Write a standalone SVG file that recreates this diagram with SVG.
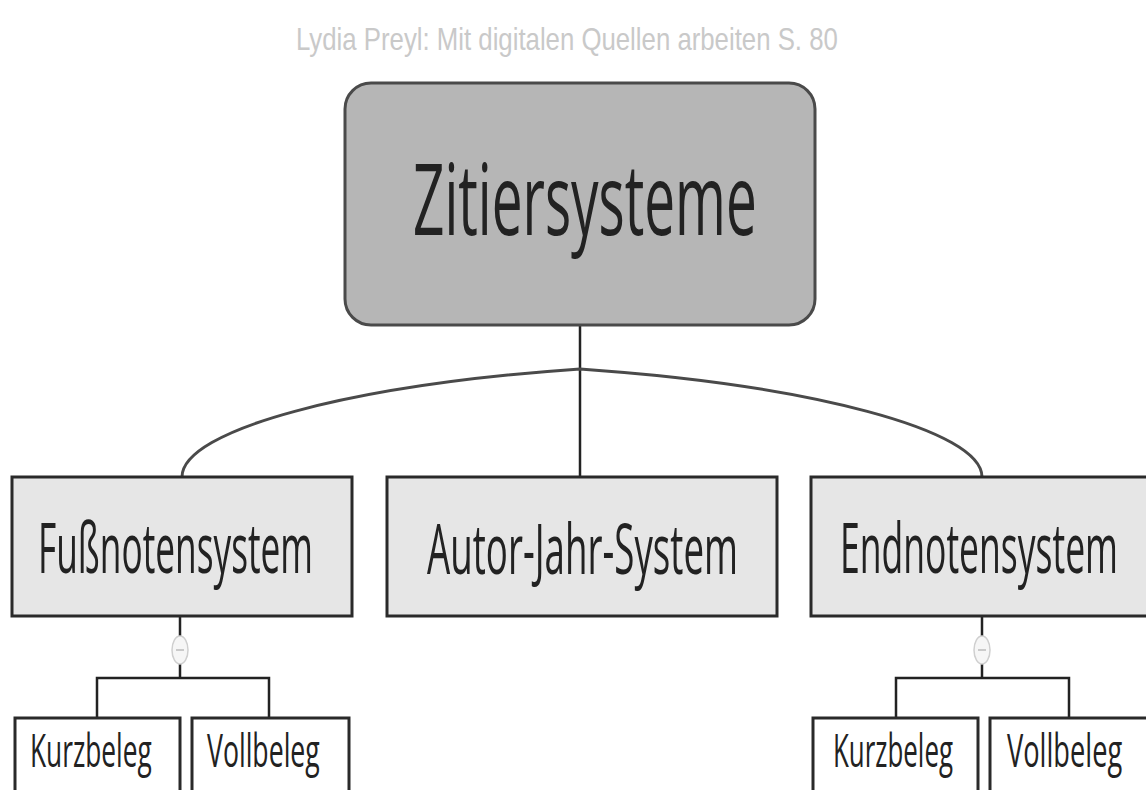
<svg xmlns="http://www.w3.org/2000/svg" width="1146" height="790" viewBox="0 0 1146 790">
<style>
.t{font-family:"Open Sans","Liberation Sans",sans-serif;fill:#222;}
.box{fill:#e6e6e6;stroke:#2a2a2a;stroke-width:3;}
.leaf{fill:#ffffff;stroke:#2a2a2a;stroke-width:3;}
.ln{fill:none;stroke:#222;stroke-width:2.5;}
.arc{fill:none;stroke:#4a4a4a;stroke-width:3;}
.tog{fill:#f6f6f6;stroke:#cfcfcf;stroke-width:1.5;}
</style>
<rect width="1146" height="790" fill="#ffffff"/>
<g transform="translate(296,50) scale(0.7,1)">
<text x="0" y="0" font-family="'Liberation Sans',sans-serif" font-size="32" fill="#c9c9c9" textLength="774" lengthAdjust="spacingAndGlyphs">Lydia Preyl: Mit digitalen Quellen arbeiten S. 80</text>
</g>
<g id="connectors">
<line class="ln" x1="580" y1="325" x2="580" y2="477"/>
<path class="arc" d="M182,477 C182,430 350,385 580,369 C810,385 982,430 982,477"/>
<line class="ln" x1="180" y1="616" x2="180" y2="636"/>
<line class="ln" x1="180" y1="664" x2="180" y2="678"/>
<path class="ln" d="M97,718 V678 H269 V718"/>
<line class="ln" x1="982" y1="616" x2="982" y2="636"/>
<line class="ln" x1="982" y1="664" x2="982" y2="678"/>
<path class="ln" d="M896,718 V678 H1069 V718"/>
</g>
<g id="toggle-left">
<ellipse class="tog" cx="180" cy="650" rx="8" ry="14"/>
<line x1="176" y1="650" x2="184" y2="650" stroke="#bbb" stroke-width="1.5"/>
</g>
<g id="toggle-right">
<ellipse class="tog" cx="982" cy="650" rx="8" ry="14"/>
<line x1="978" y1="650" x2="986" y2="650" stroke="#bbb" stroke-width="1.5"/>
</g>
<g id="root">
<rect x="345" y="83" width="470" height="242" rx="26" fill="#b6b6b6" stroke="#4a4a4a" stroke-width="3"/>
<g transform="translate(413,235) scale(0.55,1)">
<text class="t" x="0" y="0" font-size="98" textLength="625" lengthAdjust="spacingAndGlyphs">Zitiersysteme</text>
</g>
</g>
<g id="fussnoten">
<rect class="box" x="12" y="477" width="340" height="139"/>
<g transform="translate(38,573) scale(0.5,1)">
<text class="t" x="0" y="0" font-size="70" textLength="550" lengthAdjust="spacingAndGlyphs">Fußnotensystem</text>
</g>
</g>
<g id="autorjahr">
<rect class="box" x="387" y="477" width="390" height="139"/>
<g transform="translate(427,574) scale(0.5,1)">
<text class="t" x="0" y="0" font-size="70" textLength="622" lengthAdjust="spacingAndGlyphs">Autor-Jahr-System</text>
</g>
</g>
<g id="endnoten">
<rect class="box" x="811" y="477" width="345" height="139"/>
<g transform="translate(840,573) scale(0.5,1)">
<text class="t" x="0" y="0" font-size="70" textLength="556" lengthAdjust="spacingAndGlyphs">Endnotensystem</text>
</g>
</g>
<g id="kurz-left">
<rect class="leaf" x="15" y="718" width="165" height="90"/>
<g transform="translate(30,767) scale(0.6,1)">
<text class="t" x="0" y="0" font-size="45" textLength="203" lengthAdjust="spacingAndGlyphs">Kurzbeleg</text>
</g>
</g>
<g id="voll-left">
<rect class="leaf" x="192" y="718" width="157" height="90"/>
<g transform="translate(207,767) scale(0.6,1)">
<text class="t" x="0" y="0" font-size="45" textLength="188" lengthAdjust="spacingAndGlyphs">Vollbeleg</text>
</g>
</g>
<g id="kurz-right">
<rect class="leaf" x="813" y="718" width="165" height="90"/>
<g transform="translate(833,767) scale(0.6,1)">
<text class="t" x="0" y="0" font-size="45" textLength="200" lengthAdjust="spacingAndGlyphs">Kurzbeleg</text>
</g>
</g>
<g id="voll-right">
<rect class="leaf" x="990" y="718" width="160" height="90"/>
<g transform="translate(1007,767) scale(0.6,1)">
<text class="t" x="0" y="0" font-size="45" textLength="192" lengthAdjust="spacingAndGlyphs">Vollbeleg</text>
</g>
</g>
</svg>
